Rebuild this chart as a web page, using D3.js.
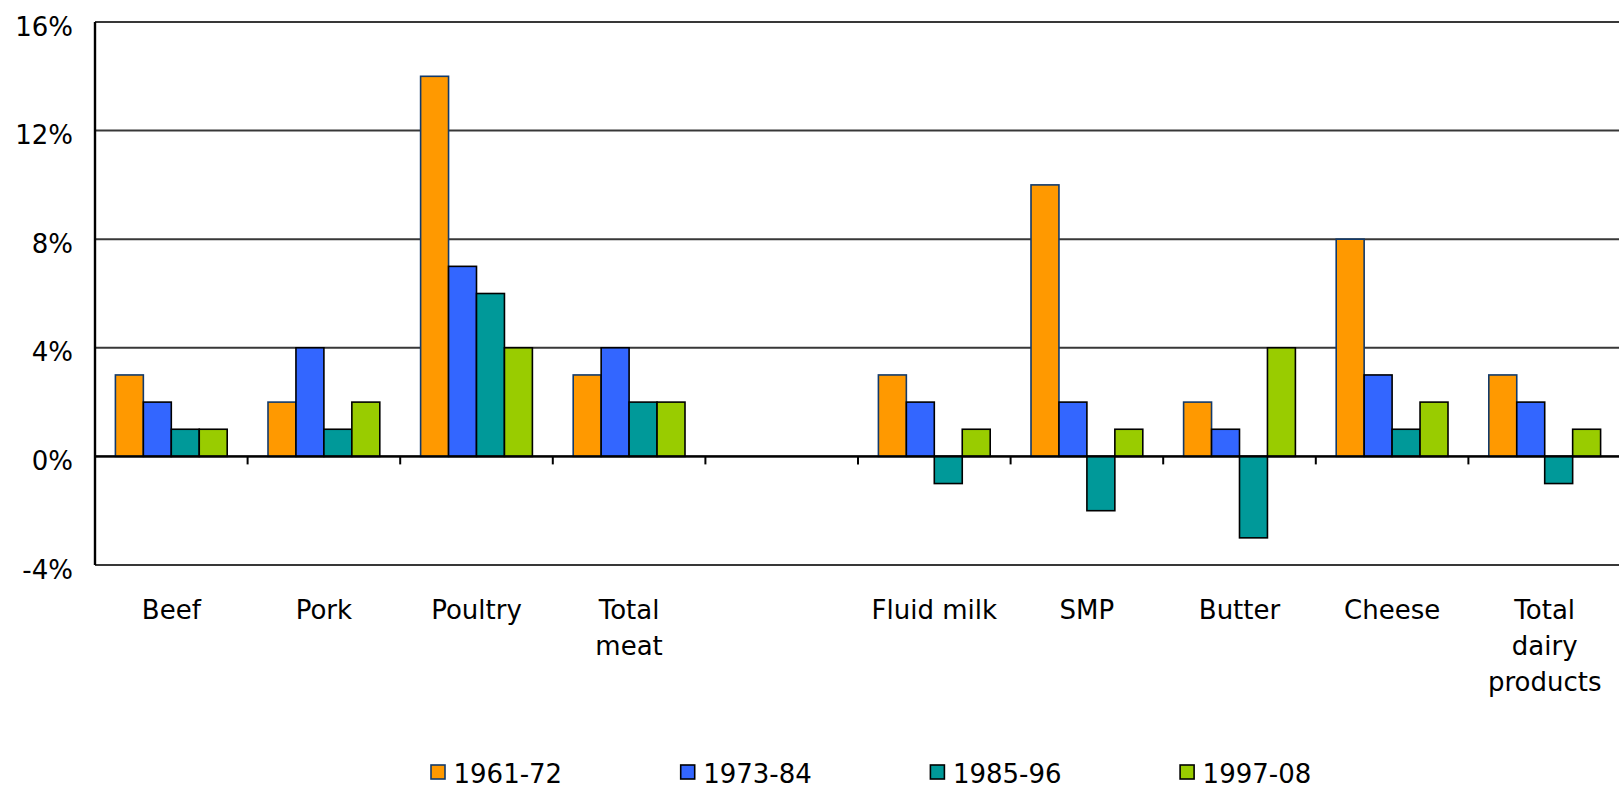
<!DOCTYPE html>
<html>
<head>
<meta charset="utf-8">
<script src="https://cdn.jsdelivr.net/npm/d3@7"></script>
<style>
  html, body { margin: 0; padding: 0; background: #fff; overflow: hidden; }
  svg { display: block; font-family: 'DejaVu Sans', Verdana, sans-serif; }
</style>
</head>
<body>
<main></main>
<script>
const categories = [
  'Beef',
  'Pork',
  'Poultry',
  'Total\nmeat',
  '',
  'Fluid milk',
  'SMP',
  'Butter',
  'Cheese',
  'Total\ndairy\nproducts',
];

const seriesNames = ['1961-72', '1973-84', '1985-96', '1997-08'];
const seriesColors = ['#ff9900', '#3366ff', '#009999', '#99cc00'];
const seriesStrokes = ['#123a6b', '#000', '#000', '#000'];

const values1961 = [3, 2, 14, 3, null, 3, 10, 2, 8, 3];
const values1973 = [2, 4, 7, 4, null, 2, 2, 1, 3, 2];
const values1985 = [1, 1, 6, 2, null, -1, -2, -3, 1, -1];
const values1997 = [1, 2, 4, 2, null, 1, 1, 4, 2, 1];

const yTicks = [-4, 0, 4, 8, 12, 16];

const seriesValues = [values1961, values1973, values1985, values1997];

const dimensions = {
  width: 1619,
  height: 789,
  margin: { top: 22, left: 95 },
  boundedWidth: 1526,
  boundedHeight: 543,
};

const svg = d3
  .select('main')
  .append('svg')
  .attr('width', dimensions.width)
  .attr('height', dimensions.height);

const bounds = svg
  .append('g')
  .attr(
    'transform',
    `translate(${dimensions.margin.left} ${dimensions.margin.top})`
  );

const xScale = d3
  .scaleBand()
  .domain(d3.range(categories.length))
  .range([0, dimensions.boundedWidth])
  .padding(0);

const innerScale = d3
  .scaleBand()
  .domain(d3.range(seriesNames.length))
  .range([0, xScale.bandwidth()])
  .paddingInner(0)
  .paddingOuter(0.73);

const yScale = d3
  .scaleLinear()
  .domain([-4, 16])
  .range([dimensions.boundedHeight, 0]);

// gridlines
bounds
  .append('g')
  .selectAll('line')
  .data(yTicks)
  .join('line')
  .attr('x1', 0)
  .attr('x2', dimensions.boundedWidth)
  .attr('y1', d => yScale(d))
  .attr('y2', d => yScale(d))
  .attr('stroke', '#383838')
  .attr('stroke-width', 2);

// y axis labels
const yAxis = d3
  .axisLeft(yScale)
  .tickValues(yTicks)
  .tickSize(0)
  .tickPadding(22)
  .tickFormat(d => `${d}%`);

const yAxisGroup = bounds.append('g').call(yAxis);
yAxisGroup.select('.domain').remove();
yAxisGroup
  .selectAll('text')
  .attr('font-size', 26)
  .attr('font-family', "'DejaVu Sans', Verdana, sans-serif")
  .attr('fill', '#000')
  .attr('dy', '0.5em');

// bars
const barData = [];
seriesValues.forEach((vals, s) => {
  vals.forEach((v, c) => {
    if (v !== null) barData.push({ s, c, v });
  });
});

bounds
  .append('g')
  .selectAll('rect')
  .data(barData)
  .join('rect')
  .attr('x', d => xScale(d.c) + innerScale(d.s))
  .attr('width', innerScale.bandwidth())
  .attr('y', d => yScale(Math.max(0, d.v)))
  .attr('height', d => Math.abs(yScale(d.v) - yScale(0)))
  .attr('fill', d => seriesColors[d.s])
  .attr('stroke', d => seriesStrokes[d.s])
  .attr('stroke-width', 1.6);

// zero line and category ticks
bounds
  .append('line')
  .attr('x1', 0)
  .attr('x2', dimensions.boundedWidth)
  .attr('y1', yScale(0))
  .attr('y2', yScale(0))
  .attr('stroke', '#000')
  .attr('stroke-width', 2.2);

bounds
  .append('g')
  .selectAll('line')
  .data(d3.range(1, categories.length))
  .join('line')
  .attr('x1', d => xScale(d))
  .attr('x2', d => xScale(d))
  .attr('y1', yScale(0))
  .attr('y2', yScale(0) + 8)
  .attr('stroke', '#000')
  .attr('stroke-width', 2);

// left axis line
bounds
  .append('line')
  .attr('x1', 0)
  .attr('x2', 0)
  .attr('y1', 0)
  .attr('y2', dimensions.boundedHeight)
  .attr('stroke', '#000')
  .attr('stroke-width', 2.4);

// category labels
const labelGroup = bounds
  .append('g')
  .attr('font-size', 26)
  .attr('fill', '#000')
  .attr('text-anchor', 'middle');

labelGroup
  .selectAll('text')
  .data(categories)
  .join('text')
  .attr('x', (d, i) => xScale(i) + xScale.bandwidth() / 2)
  .attr('y', dimensions.boundedHeight + 54)
  .each(function (d) {
    d3.select(this)
      .selectAll('tspan')
      .data(d.split('\n'))
      .join('tspan')
      .attr('x', d3.select(this).attr('x'))
      .attr('dy', (t, j) => (j === 0 ? 0 : 36))
      .text(t => t);
  });

// legend (nudged up a little so the text box stays inside the picture)
const legend = svg
  .append('g')
  .attr('font-size', 26)
  .attr('fill', '#000');

const legendItems = legend
  .selectAll('g')
  .data(seriesNames)
  .join('g')
  .attr('transform', (d, i) => `translate(${431 + i * 249.7} 765)`);

legendItems
  .append('rect')
  .attr('width', 14)
  .attr('height', 14)
  .attr('fill', (d, i) => seriesColors[i])
  .attr('stroke', (d, i) => seriesStrokes[i])
  .attr('stroke-width', 1.6);

legendItems
  .append('text')
  .attr('x', 22.5)
  .attr('y', 17.5)
  .text(d => d);
</script>
</body>
</html>
